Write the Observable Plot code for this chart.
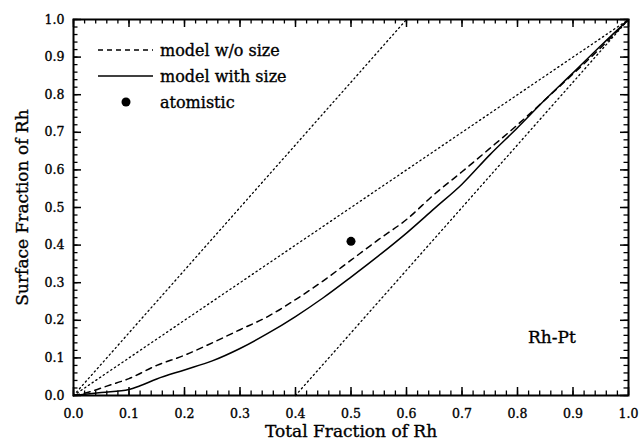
<!DOCTYPE html>
<html>
<head>
<meta charset="utf-8">
<script src="https://cdn.jsdelivr.net/npm/d3@7"></script>
<script src="https://cdn.jsdelivr.net/npm/@observablehq/plot@0.6"></script>
<style>
  html, body { margin: 0; padding: 0; background: #fff; }
  #wrap { position: relative; width: 639px; height: 448px; }
  #legend { position: absolute; left: 0; top: 0; pointer-events: none; }
</style>
</head>
<body>
<div id="wrap"></div>
<script>
// ---- data ----
const xLabel = "Total Fraction of Rh";
const yLabel = "Surface Fraction of Rh";
const majorTicks = [0, 0.1, 0.2, 0.3, 0.4, 0.5, 0.6, 0.7, 0.8, 0.9, 1.0];
const minorTicks = d3.range(0, 51).map(i => i / 50);

const modelNoSizeX = [0, 0.03, 0.06, 0.1, 0.15, 0.2, 0.25, 0.3, 0.35, 0.4, 0.45, 0.5, 0.55, 0.6, 0.65, 0.7, 0.75, 0.8, 0.85, 0.9, 0.95, 1.0];
const modelNoSizeY = [0, 0.01, 0.025, 0.045, 0.08, 0.107, 0.14, 0.175, 0.21, 0.255, 0.305, 0.36, 0.415, 0.468, 0.535, 0.595, 0.657, 0.72, 0.787, 0.855, 0.925, 1.0];

const modelSizeX = [0, 0.05, 0.1, 0.12, 0.15, 0.2, 0.25, 0.3, 0.35, 0.4, 0.45, 0.5, 0.55, 0.6, 0.65, 0.7, 0.75, 0.8, 0.85, 0.9, 0.95, 1.0];
const modelSizeY = [0, 0.008, 0.016, 0.026, 0.044, 0.068, 0.092, 0.125, 0.165, 0.21, 0.26, 0.315, 0.372, 0.432, 0.497, 0.562, 0.64, 0.712, 0.787, 0.858, 0.93, 1.0];

const atomisticX = [0.5];
const atomisticY = [0.41];

const refUpperX = [0, 0.6];   const refUpperY = [0, 1];
const refDiagX = [0, 1];      const refDiagY = [0, 1];
const refLowerX = [0.4, 1];   const refLowerY = [0, 1];

const systemLabel = ["Rh-Pt"];
const systemLabelX = [0.862];
const systemLabelY = [0.155];

const legendLabels = ["model w/o size", "model with size", "atomistic"];

// ---- build ----
const zip = (xs, ys) => xs.map((x, i) => ({x, y: ys[i]}));
const noSize = zip(modelNoSizeX, modelNoSizeY);
const withSize = zip(modelSizeX, modelSizeY);
const atom = zip(atomisticX, atomisticY);
const refs = [zip(refUpperX, refUpperY), zip(refDiagX, refDiagY), zip(refLowerX, refLowerY)];
const annot = systemLabel.map((t, i) => ({t, x: systemLabelX[i], y: systemLabelY[i]}));

const font = "DejaVu Serif, Liberation Serif, serif";
const W = 639, H = 448, ML = 73, MR = 11, MT = 19, MB = 53;
const FW = W - ML - MR, FH = H - MT - MB;
const MAJ = 8, MIN = 4.5;
const id = d => d;
const heavy = {fill: "#000", stroke: "#000", strokeWidth: 0.35};

const chart = Plot.plot({
  width: W, height: H,
  marginLeft: ML, marginRight: MR, marginTop: MT, marginBottom: MB,
  x: {domain: [0, 1]},
  y: {domain: [0, 1]},
  style: {fontFamily: font, fontSize: "12.5px", color: "#000", background: "#fff"},
  marks: [
    // dotted reference lines
    ...refs.map(r => Plot.line(r, {x: "x", y: "y", stroke: "#000", strokeWidth: 1.3, strokeDasharray: "1.3,3.2", strokeLinecap: "round"})),
    // model curves
    Plot.line(noSize, {x: "x", y: "y", curve: "monotone-x", stroke: "#000", strokeWidth: 1.5, strokeDasharray: "6,5"}),
    Plot.line(withSize, {x: "x", y: "y", curve: "monotone-x", stroke: "#000", strokeWidth: 1.5}),
    Plot.dot(atom, {x: "x", y: "y", r: 4.5, fill: "#000", stroke: null}),
    Plot.text(annot, {x: "x", y: "y", text: "t", fontSize: 17, ...heavy}),
    // tick labels
    Plot.axisX({anchor: "bottom", ticks: majorTicks, tickSize: 0, tickPadding: 14, tickFormat: d3.format(".1f"), label: null, textStroke: "#000", textStrokeWidth: 0.35}),
    Plot.axisY({anchor: "left", ticks: majorTicks, tickSize: 0, tickPadding: 9, tickFormat: d3.format(".1f"), label: null, textStroke: "#000", textStrokeWidth: 0.35}),
    // inward ticks on all four sides
    Plot.tickX(majorTicks, {x: id, insetTop: FH - MAJ, stroke: "#000", strokeWidth: 1.5}),
    Plot.tickX(minorTicks, {x: id, insetTop: FH - MIN, stroke: "#000", strokeWidth: 1.3}),
    Plot.tickX(majorTicks, {x: id, insetBottom: FH - MAJ, stroke: "#000", strokeWidth: 1.5}),
    Plot.tickX(minorTicks, {x: id, insetBottom: FH - MIN, stroke: "#000", strokeWidth: 1.3}),
    Plot.tickY(majorTicks, {y: id, insetRight: FW - MAJ, stroke: "#000", strokeWidth: 1.5}),
    Plot.tickY(minorTicks, {y: id, insetRight: FW - MIN, stroke: "#000", strokeWidth: 1.3}),
    Plot.tickY(majorTicks, {y: id, insetLeft: FW - MAJ, stroke: "#000", strokeWidth: 1.5}),
    Plot.tickY(minorTicks, {y: id, insetLeft: FW - MIN, stroke: "#000", strokeWidth: 1.3}),
    Plot.frame({stroke: "#000", strokeWidth: 2}),
    // axis titles
    Plot.text([xLabel], {frameAnchor: "bottom", dy: 41, fontSize: 17, ...heavy}),
    Plot.text([yLabel], {frameAnchor: "middle", dx: 22 - (ML + FW / 2), rotate: -90, fontSize: 17, ...heavy})
  ]
});

const wrap = document.getElementById("wrap");
wrap.appendChild(chart);

// legend (inside plot area, top-left)
const leg = d3.select(wrap).append("svg")
  .attr("id", "legend").attr("width", W).attr("height", H);
const rowsY = [50, 76, 102];
leg.append("line").attr("x1", 98).attr("x2", 153).attr("y1", rowsY[0]).attr("y2", rowsY[0])
  .attr("stroke", "#000").attr("stroke-width", 1.5).attr("stroke-dasharray", "5,4");
leg.append("line").attr("x1", 98).attr("x2", 153).attr("y1", rowsY[1]).attr("y2", rowsY[1])
  .attr("stroke", "#000").attr("stroke-width", 1.5);
leg.append("circle").attr("cx", 126).attr("cy", rowsY[2]).attr("r", 4.5).attr("fill", "#000");
legendLabels.forEach((t, i) => {
  leg.append("text").attr("x", 160).attr("y", rowsY[i]).attr("dy", "0.35em")
    .attr("font-family", font).attr("font-size", 16).attr("fill", "#000")
    .attr("stroke", "#000").attr("stroke-width", 0.35).text(t);
});
</script>
</body>
</html>
